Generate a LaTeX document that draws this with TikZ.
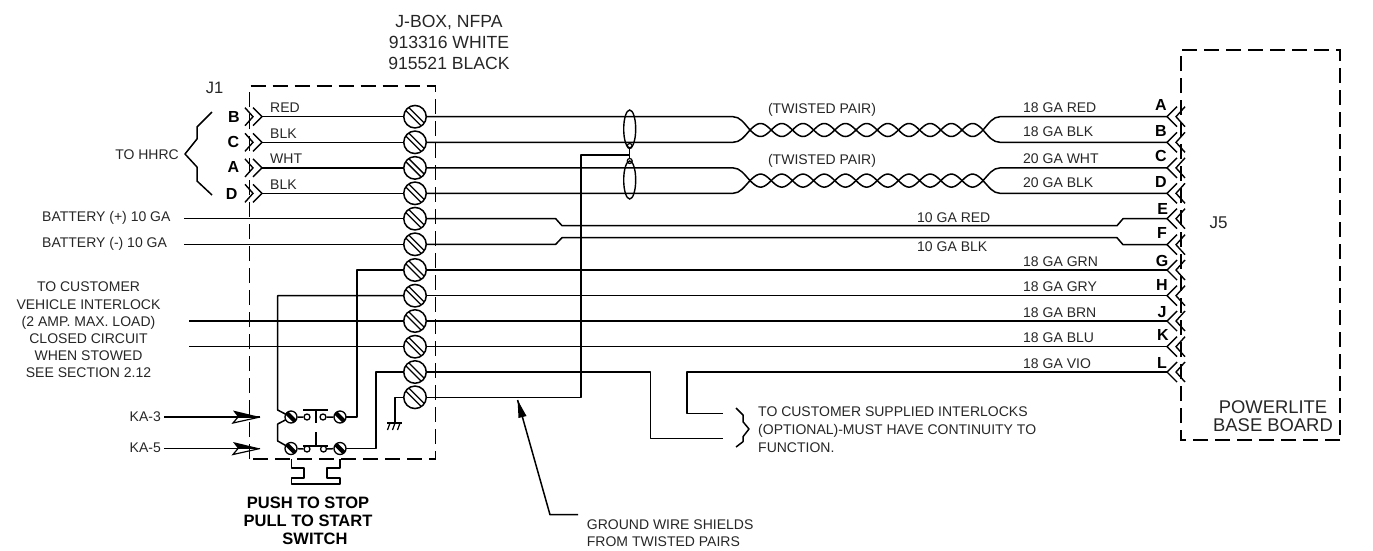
\documentclass[tikz,border=0pt]{standalone}
\usepackage{fontspec}
\setmainfont{Liberation Sans}
\usetikzlibrary{shapes.geometric}
\tikzset{
  x=1pt,y=-1pt,
  wire/.style={line width=1.5pt,line join=round},
  box/.style={line width=1.5pt,dash pattern=on 15pt off 7pt},
  lbl/.style={font=\fontsize{14}{16}\selectfont,inner sep=0pt,text=black!85},
  pin/.style={font=\fontsize{16}{18}\selectfont\bfseries,inner sep=0pt},
  screw/.style={circle,draw,fill=white,line width=1.5pt,minimum size=22.5pt,inner sep=0pt,
    path picture={
      \draw[line width=1.3pt] ([shift={(-9,-6)}]path picture bounding box.center) -- ([shift={(6,9)}]path picture bounding box.center);
      \draw[line width=1.3pt] ([shift={(-6,-9)}]path picture bounding box.center) -- ([shift={(9,6)}]path picture bounding box.center);}},
  smallscrew/.style={circle,draw,fill=white,line width=1.3pt,minimum size=12pt,inner sep=0pt,
    path picture={
      \fill[black] ([shift={(-5.5,-2.5)}]path picture bounding box.center) -- ([shift={(-2.5,-5.5)}]path picture bounding box.center) -- ([shift={(5.5,2.5)}]path picture bounding box.center) -- ([shift={(2.5,5.5)}]path picture bounding box.center) -- cycle;}},
  contact/.style={circle,draw,fill=white,line width=1.3pt,minimum size=6pt,inner sep=0pt},
  shield/.style={ellipse,draw,line width=1.4pt,minimum width=12pt,minimum height=38pt,inner sep=0pt},
  tie/.style={circle,draw,line width=1.2pt,minimum size=5pt,inner sep=0pt}
}
\newcommand{\chevL}[1]{%
  \draw[line width=1.4pt] (245,#1-9) -- (253,#1) -- (245,#1+9);
  \draw[line width=1.4pt] (253,#1-9) -- (262,#1) -- (253,#1+9);}
\newcommand{\chevR}[1]{%
  \draw[line width=1.4pt] (1177,#1-10) -- (1167,#1) -- (1177,#1+10);
  \draw[line width=1.4pt] (1185,#1-10) -- (1176,#1) -- (1185,#1+10);}
\newcommand{\twistpair}[1]{%
  \draw[wire,domain=0:11,samples=160,smooth] plot ({750+\x*21.2},{#1+6.5*sin(\x*180)});
  \draw[wire,domain=0:11,samples=160,smooth] plot ({750+\x*21.2},{#1-6.5*sin(\x*180)});}
\begin{document}
\begin{tikzpicture}
\useasboundingbox (0,0) rectangle (1373,550);
% boxes
\draw[box] (249.7,459) -- (249.7,86) -- (435.7,86) -- (435.7,459) -- cycle;
\draw[box] (1340,440) -- (1181,440) -- (1181,50) -- (1340,50) -- cycle;
% terminals
\foreach \n/\y in {1/116.7,2/142.3,3/167.9,4/193.3,5/218.7,6/244.3,7/270,8/295.7,9/321,10/346.7,11/372,12/397.3}
  \node[screw] (t\n) at (415,\y) {};
% left wires
\foreach \n/\y in {1/116.7,2/142.3,3/167.9,4/193.3} {
  \coordinate (lw\n) at (262,\y);
  \draw[wire] (lw\n) -- (t\n.west);
  \chevL{\y}
}
\coordinate (b5) at (184,218.7);
\coordinate (b6) at (184,244.3);
\coordinate (c9) at (189,321);
\coordinate (c10) at (189,346.7);
\draw[wire] (b5) -- (t5.west);
\draw[wire] (b6) -- (t6.west);
\draw[wire] (c9) -- (t9.west);
\draw[wire] (c10) -- (t10.west);
% J5 chevrons
\foreach \y in {116.7,142.3,167.9,193.3,218.7,244.7,270,295.7,321,346.7,372} {\chevR{\y}}
% twisted pairs
\twistpair{130}
\twistpair{180.6}
\draw[wire] (t1.east) -- (733,116.7) .. controls (740,116.7) and (744,123) .. (750,130);
\draw[wire] (t2.east) -- (733,142.3) .. controls (740,142.3) and (744,137) .. (750,130);
\draw[wire] (t3.east) -- (733,167.9) .. controls (740,167.9) and (744,174) .. (750,180.6);
\draw[wire] (t4.east) -- (733,193.3) .. controls (740,193.3) and (744,187) .. (750,180.6);
\draw[wire] (1167,116.7) -- (1000,116.7) .. controls (993,116.7) and (989,123) .. (983,130);
\draw[wire] (1167,142.3) -- (1000,142.3) .. controls (993,142.3) and (989,137) .. (983,130);
\draw[wire] (1167,167.9) -- (1000,167.9) .. controls (993,167.9) and (989,174) .. (983,180.6);
\draw[wire] (1167,193.3) -- (1000,193.3) .. controls (993,193.3) and (989,187) .. (983,180.6);
% battery
\draw[wire] (t5.east) -- (555.7,218.7) -- (562,225.7) -- (1117,225.7) -- (1123,218.7) -- (1167,218.7);
\draw[wire] (t6.east) -- (555.7,244.3) -- (562,237.7) -- (1117,237.7) -- (1123,244.7) -- (1167,244.7);
% plain
\draw[wire] (t7.east) -- (1167,270);
\draw[wire] (t8.east) -- (1167,295.7);
\draw[wire] (t9.east) -- (1167,321);
\draw[wire] (t10.east) -- (1167,346.7);
\coordinate (bh) at (723,438.7);
\coordinate (bl) at (723,413.3);
\draw[wire] (t11.east) -- (650.7,372) -- (650.7,438.7) -- (bh);
\draw[wire] (1167,372) -- (687,372) -- (687,413.3) -- (bl);
% shields
\node[shield] (s1) at (629.7,129) {};
\node[shield] (s2) at (629.7,180) {};
\node[tie] (k1) at (629.7,146) {};
\node[tie] (k2) at (629.7,161) {};
\draw[wire] (k1) -- (k2);
\draw[wire] (629.7,155) -- (581,155) -- (581,397.3) -- (t12.east);
% switch
\draw[wire] (t8.west) -- (277.7,295.7) -- (277.7,410) -- (291,417) -- (277.7,424) -- (277.7,441) -- (291,448.5);
\draw[wire] (340,417) -- (357,417) -- (357,270) -- (t7.west);
\draw[wire] (340,448.5) -- (376,448.5) -- (376,372) -- (t11.west);
\node[smallscrew] (sa) at (291,417) {};
\node[smallscrew] (sb) at (340,417) {};
\node[smallscrew] (sc) at (291,448.5) {};
\node[smallscrew] (sd) at (340,448.5) {};
\node[contact] (ca) at (307,417) {};
\node[contact] (cb) at (323,417) {};
\node[contact] (cc) at (307,449) {};
\node[contact] (cd) at (323.5,449) {};
\draw[wire] (sa) -- (ca) (cb) -- (sb) (sc) -- (cc) (cd) -- (sd);
\draw[wire] (303,410) -- (328,410) (316,410) -- (316,423);
\draw[wire] (303,446) -- (328,446) (316,432) -- (316,446);
% ground
\coordinate (g) at (395,423);
\draw[wire] (t12.west) -- (395,397.3) -- (g);
\draw[wire] (387,423) -- (402,423);
\draw[line width=1.2pt] (390,423) -- (387.5,430) (395,423) -- (392.5,430) (400,423) -- (397.5,430);
% KA arrows
\foreach \nm/\y in {ka3/417,ka5/448.5} {
  \coordinate (\nm) at (164,\y);
  \coordinate (\nm t) at (260,\y);
  \draw[wire] (\nm) -- (\nm t);
  \fill (\nm t) -- (233,\y-6.5) -- (238,\y) -- cycle;
  \draw[line width=1.2pt,line join=miter] (\nm t) -- (233,\y+6) -- (238,\y);
}
% knob
\draw[wire] (291.7,459) -- (291.7,468) -- (304,468) -- (304,478) -- (291.7,478) -- (291.7,484) -- (340,484) -- (340,478) -- (327,478) -- (327,468) -- (340,468) -- (340,459);
% braces
\draw[wire] (212,112) -- (197,127) -- (197,139) -- (185,154) -- (197,167) -- (197,181) -- (212,195);
\draw[wire] (736,408) -- (743,415) -- (743,421.7) -- (749,429) -- (743,436.7) -- (743,441.7) -- (736,447);
% ground-wire leader
\coordinate (gl) at (517.6,400);
\draw[wire] (578,514.7) -- (550,514.7) -- (gl);
\fill (gl) -- (526.5,416) -- (518.5,418) -- cycle;
% labels
\node[lbl,align=center,font=\fontsize{17.6}{20.7}\selectfont] (jbox) at (449,42.5) {J-BOX, NFPA\\913316 WHITE\\915521 BLACK};
\node[lbl,font=\fontsize{16.5}{18}\selectfont] (j1) at (214.7,88) {J1};
\node[lbl,font=\fontsize{17}{18}\selectfont] (j5) at (1218.7,222.7) {J5};
\node[lbl,anchor=west] (l1) at (270,108) {RED};
\node[lbl,anchor=west] (l2) at (270,134) {BLK};
\node[lbl,anchor=west] (l3) at (270,159) {WHT};
\node[lbl,anchor=west] (l4) at (270,185) {BLK};
\node[pin] (pb) at (234,116.7) {B};
\node[pin] (pc) at (233.5,142) {C};
\node[pin] (pa) at (233.3,167) {A};
\node[pin] (pd) at (231.7,194) {D};
\node[lbl,anchor=east] (hh) at (179,155) {TO HHRC};
\node[lbl,anchor=west] (bp) at (42,218) {BATTERY (+) 10 GA};
\node[lbl,anchor=west] (bm) at (42,244) {BATTERY (-) 10 GA};
\node[lbl,align=center,font=\fontsize{14}{17.2}\selectfont] (cust) at (88.5,330) {TO CUSTOMER\\VEHICLE INTERLOCK\\(2 AMP. MAX. LOAD)\\CLOSED CIRCUIT\\WHEN STOWED\\SEE SECTION 2.12};
\node[lbl,anchor=east] (k3) at (161,417) {KA-3};
\node[lbl,anchor=east] (k5) at (161,448) {KA-5};
\node[lbl,align=center,text=black,font=\fontsize{16.5}{18.2}\selectfont\bfseries] (ps) at (308,521) {PUSH TO STOP\\PULL TO START\\\hspace*{14pt}SWITCH};
\node[lbl] (tp1) at (822,110) {(TWISTED PAIR)};
\node[lbl] (tp2) at (822,161) {(TWISTED PAIR)};
\node[lbl,anchor=west] (g1) at (1023,107.7) {18 GA RED};
\node[lbl,anchor=west] (g2) at (1023,132) {18 GA BLK};
\node[lbl,anchor=west] (g3) at (1023,159) {20 GA WHT};
\node[lbl,anchor=west] (g4) at (1023,183) {20 GA BLK};
\node[lbl,anchor=west] (g5) at (917,218) {10 GA RED};
\node[lbl,anchor=west] (g6) at (917,247) {10 GA BLK};
\node[lbl,anchor=west] (g7) at (1023,262) {18 GA GRN};
\node[lbl,anchor=west] (g8) at (1023,287) {18 GA GRY};
\node[lbl,anchor=west] (g9) at (1023,313) {18 GA BRN};
\node[lbl,anchor=west] (g10) at (1023,338) {18 GA BLU};
\node[lbl,anchor=west] (g11) at (1023,364) {18 GA VIO};
\node[pin] (pA) at (1161,105) {A};
\node[pin] (pB) at (1161,130.7) {B};
\node[pin] (pC) at (1161,156) {C};
\node[pin] (pD) at (1161,181.7) {D};
\node[pin] (pE) at (1162.7,209) {E};
\node[pin] (pF) at (1162,233) {F};
\node[pin] (pG) at (1162,260.7) {G};
\node[pin] (pH) at (1162,285) {H};
\node[pin] (pJ) at (1162,311.7) {J};
\node[pin] (pK) at (1163,335) {K};
\node[pin] (pL) at (1162,363) {L};
\node[lbl,align=left,font=\fontsize{14}{17.8}\selectfont,anchor=west] (ci) at (758,429.5) {TO CUSTOMER SUPPLIED INTERLOCKS\\(OPTIONAL)-MUST HAVE CONTINUITY TO\\FUNCTION.};
\node[lbl,align=left,font=\fontsize{14}{17}\selectfont,anchor=west] (gw) at (586.7,533.5) {GROUND WIRE SHIELDS\\FROM TWISTED PAIRS};
\node[lbl,align=center,font=\fontsize{18.4}{18.5}\selectfont] (pl) at (1273,416) {POWERLITE\\BASE BOARD};
\end{tikzpicture}
\end{document}
